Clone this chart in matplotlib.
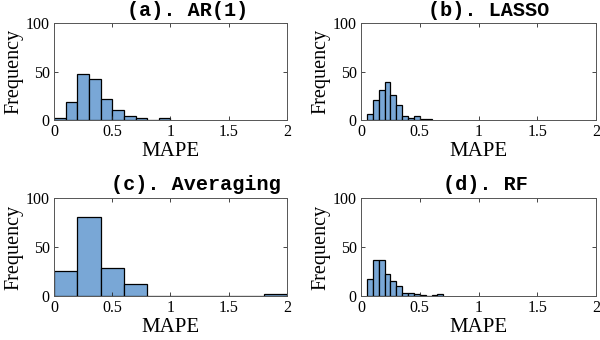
import numpy as np
import matplotlib
matplotlib.use('Agg')
import matplotlib.pyplot as plt

# histogram counts
edges_a = np.round(np.arange(0, 1.01, 0.1), 2)
counts_a = [2, 19, 47, 42, 22, 10, 4, 2, 0, 2]

edges_b = np.round(np.arange(0.05, 0.601, 0.05), 2)
counts_b = [6, 21, 31, 39, 26, 15, 4, 2, 4, 1, 1]

edges_c = np.round(np.arange(0, 2.01, 0.2), 2)
counts_c = [26, 81, 29, 12, 0, 0, 0, 0, 0, 2]

edges_d = np.round(np.arange(0.05, 0.701, 0.05), 2)
counts_d = [17, 37, 37, 22, 15, 10, 3, 3, 2, 1, 0, 1, 2]

titles = ['(a). AR(1)', '(b). LASSO', '(c). Averaging', '(d). RF']
title_x = [188, 489, 196, 485]
title_y = [10, 10, 184, 184]

face = '#79a7d6'
serif = 'Liberation Serif'

fig = plt.figure(figsize=(6, 3.4), dpi=100)

# axes boxes in pixels: left, top, right, bottom
boxes = [(54, 23, 287, 120), (361, 23, 596, 120),
         (54, 198, 287, 296), (361, 198, 596, 296)]
data = [(edges_a, counts_a), (edges_b, counts_b),
        (edges_c, counts_c), (edges_d, counts_d)]

for (l, t, r, b), (edges, counts), title, tx, ty in zip(boxes, data, titles, title_x, title_y):
    ax = fig.add_axes([l / 600, 1 - b / 340, (r - l) / 600, (b - t) / 340])
    ax.bar(edges[:-1], counts, width=np.diff(edges), align='edge',
           color=face, edgecolor='black', linewidth=0.9)
    ax.set_xlim(0, 2)
    ax.set_ylim(0, 100)
    ax.set_xticks([0, 0.5, 1, 1.5, 2])
    ax.set_xticklabels(['0', '0.5', '1', '1.5', '2'])
    ax.set_yticks([0, 50, 100])
    ax.tick_params(direction='in', length=3, width=0.6, top=True, right=True,
                   labelsize=11.5, colors='#262626', pad=3)
    for lab in ax.get_xticklabels() + ax.get_yticklabels():
        lab.set_fontfamily(serif)
        lab.set_color('black')
    for sp in ax.spines.values():
        sp.set_color('#555555')
        sp.set_linewidth(0.7)
    ax.set_xlabel('MAPE', fontsize=15, fontfamily=serif, labelpad=1)
    ax.set_ylabel('Frequency', fontsize=14.5, fontfamily=serif, labelpad=2)
    fig.text(tx / 600, 1 - ty / 340, title, ha='center', va='center',
             fontsize=14.5, fontfamily='Liberation Mono', fontweight='bold')

fig.savefig('out.png', dpi=100)
